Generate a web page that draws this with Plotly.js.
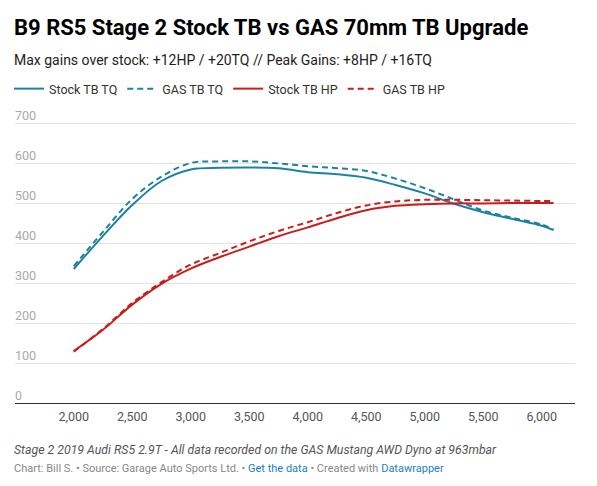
<!DOCTYPE html>
<html>
<head>
<meta charset="utf-8">
<script src="https://cdn.plot.ly/plotly-3.0.1.min.js"></script>
<style>
  html, body { margin: 0; padding: 0; background: #fff; }
  #chart { width: 597px; height: 486px; }
</style>
</head>
<body>
<div id="chart"></div>
<script>
const rpm = [2000, 2250, 2500, 2750, 3000, 3250, 3500, 3750, 4000, 4250, 4500, 4750, 5000, 5250, 5500, 5750, 6000, 6100];
const stockTQ = [335, 418, 495, 555, 584, 588, 589, 587, 577, 572, 563, 545, 524, 498, 477, 460, 443, 432];
const gasTQ   = [342, 428, 510, 566, 600, 604, 604, 599, 592, 587, 580, 561, 537, 509, 481, 463, 446, 434];
const stockHP = [130, 183, 246, 298, 336, 365, 391, 417, 439, 462, 482, 493, 497, 499, 499, 500, 500, 500];
const gasHP   = [128, 185, 250, 302, 346, 375, 404, 430, 452, 475, 494, 504, 508, 508, 507, 506, 505, 505];
const seriesNames = ["Stock TB TQ", "GAS TB TQ", "Stock TB HP", "GAS TB HP"];
const xTicks = [2000, 2500, 3000, 3500, 4000, 4500, 5000, 5500, 6000];
const yTicks = [0, 100, 200, 300, 400, 500, 600, 700];

const BLUE = "#1d81a2";
const RED = "#c71e1d";
const FONT = "Roboto, 'Noto Sans', sans-serif";

// plot area in pixels (for placing text blocks in paper coordinates)
const W = 597, H = 486;
const YMAX = 745;
const PL = 15, PR = 575, PB = 403.3, PT = 403.3 - YMAX * 0.4;
const px2x = (px) => (px - PL) / (PR - PL);
const py2y = (py) => (PB - py) / (PB - PT);

function trace(y, name, color, dashed) {
  return {
    x: rpm, y: y, name: name, type: "scatter", mode: "lines",
    line: { color: color, width: 2, shape: "spline", smoothing: 1, dash: dashed ? "6px,4px" : "solid" },
    hoverinfo: "skip"
  };
}

const data = [
  trace(stockTQ, seriesNames[0], BLUE, false),
  trace(gasTQ, seriesNames[1], BLUE, true),
  trace(stockHP, seriesNames[2], RED, false),
  trace(gasHP, seriesNames[3], RED, true)
];

const layout = {
  width: W, height: H,
  margin: { l: PL, r: W - PR, t: PT, b: H - PB, pad: 0 },
  paper_bgcolor: "#fff", plot_bgcolor: "rgba(0,0,0,0)",
  font: { family: FONT, color: "#333" },
  title: {
    text: "<b>B9 RS5 Stage 2 Stock TB vs GAS 70mm TB Upgrade</b>",
    font: { family: FONT, size: 22, color: "#000" },
    xref: "container", x: 14 / W, xanchor: "left",
    yref: "container", y: 1 - 27.5 / H, yanchor: "middle"
  },
  showlegend: true,
  legend: {
    orientation: "h", xref: "container", yref: "container",
    x: 9 / W, xanchor: "left", y: 1 - 89 / H, yanchor: "middle",
    font: { family: FONT, size: 12.5, color: "#333" },
    itemwidth: 30, tracegroupgap: 0, bgcolor: "rgba(0,0,0,0)"
  },
  xaxis: {
    range: [1498, 6284], tickvals: xTicks, tickformat: ",d",
    showgrid: false, zeroline: false,
    showline: true, linecolor: "#333", linewidth: 1,
    ticks: "", ticklabelstandoff: 2,
    tickfont: { family: FONT, size: 12.5, color: "#555" },
    fixedrange: true
  },
  yaxis: {
    range: [0, YMAX], tickvals: yTicks,
    showgrid: true, gridcolor: "#e3e3e3", gridwidth: 1,
    zeroline: false, showline: false, ticks: "",
    ticklabelposition: "inside top", ticklabelstandoff: -3, ticklabelshift: 1,
    tickfont: { family: FONT, size: 12.5, color: "#aaa" },
    fixedrange: true
  },
  annotations: [
    {
      text: "Max gains over stock: +12HP / +20TQ // Peak Gains: +8HP / +16TQ",
      xref: "paper", yref: "paper", x: px2x(13), y: py2y(60),
      xanchor: "left", yanchor: "middle", showarrow: false, borderpad: 0,
      font: { family: FONT, size: 14, color: "#222" }
    },
    {
      text: "<i>Stage 2 2019 Audi RS5 2.9T - All data recorded on the GAS Mustang AWD Dyno at 963mbar</i>",
      xref: "paper", yref: "paper", x: px2x(13), y: py2y(450),
      xanchor: "left", yanchor: "middle", showarrow: false, borderpad: 0,
      font: { family: FONT, size: 12.3, color: "#555" }
    },
    {
      text: "Chart: Bill S. • Source: Garage Auto Sports Ltd. • <span style='color:#1d81c4'>Get the data</span> • Created with <span style='color:#1d81c4'>Datawrapper</span>",
      xref: "paper", yref: "paper", x: px2x(13), y: py2y(468.3),
      xanchor: "left", yanchor: "middle", showarrow: false, borderpad: 0,
      font: { family: FONT, size: 11, color: "#888" }
    }
  ]
};

Plotly.newPlot("chart", data, layout, { displayModeBar: false, staticPlot: true });
</script>
</body>
</html>
